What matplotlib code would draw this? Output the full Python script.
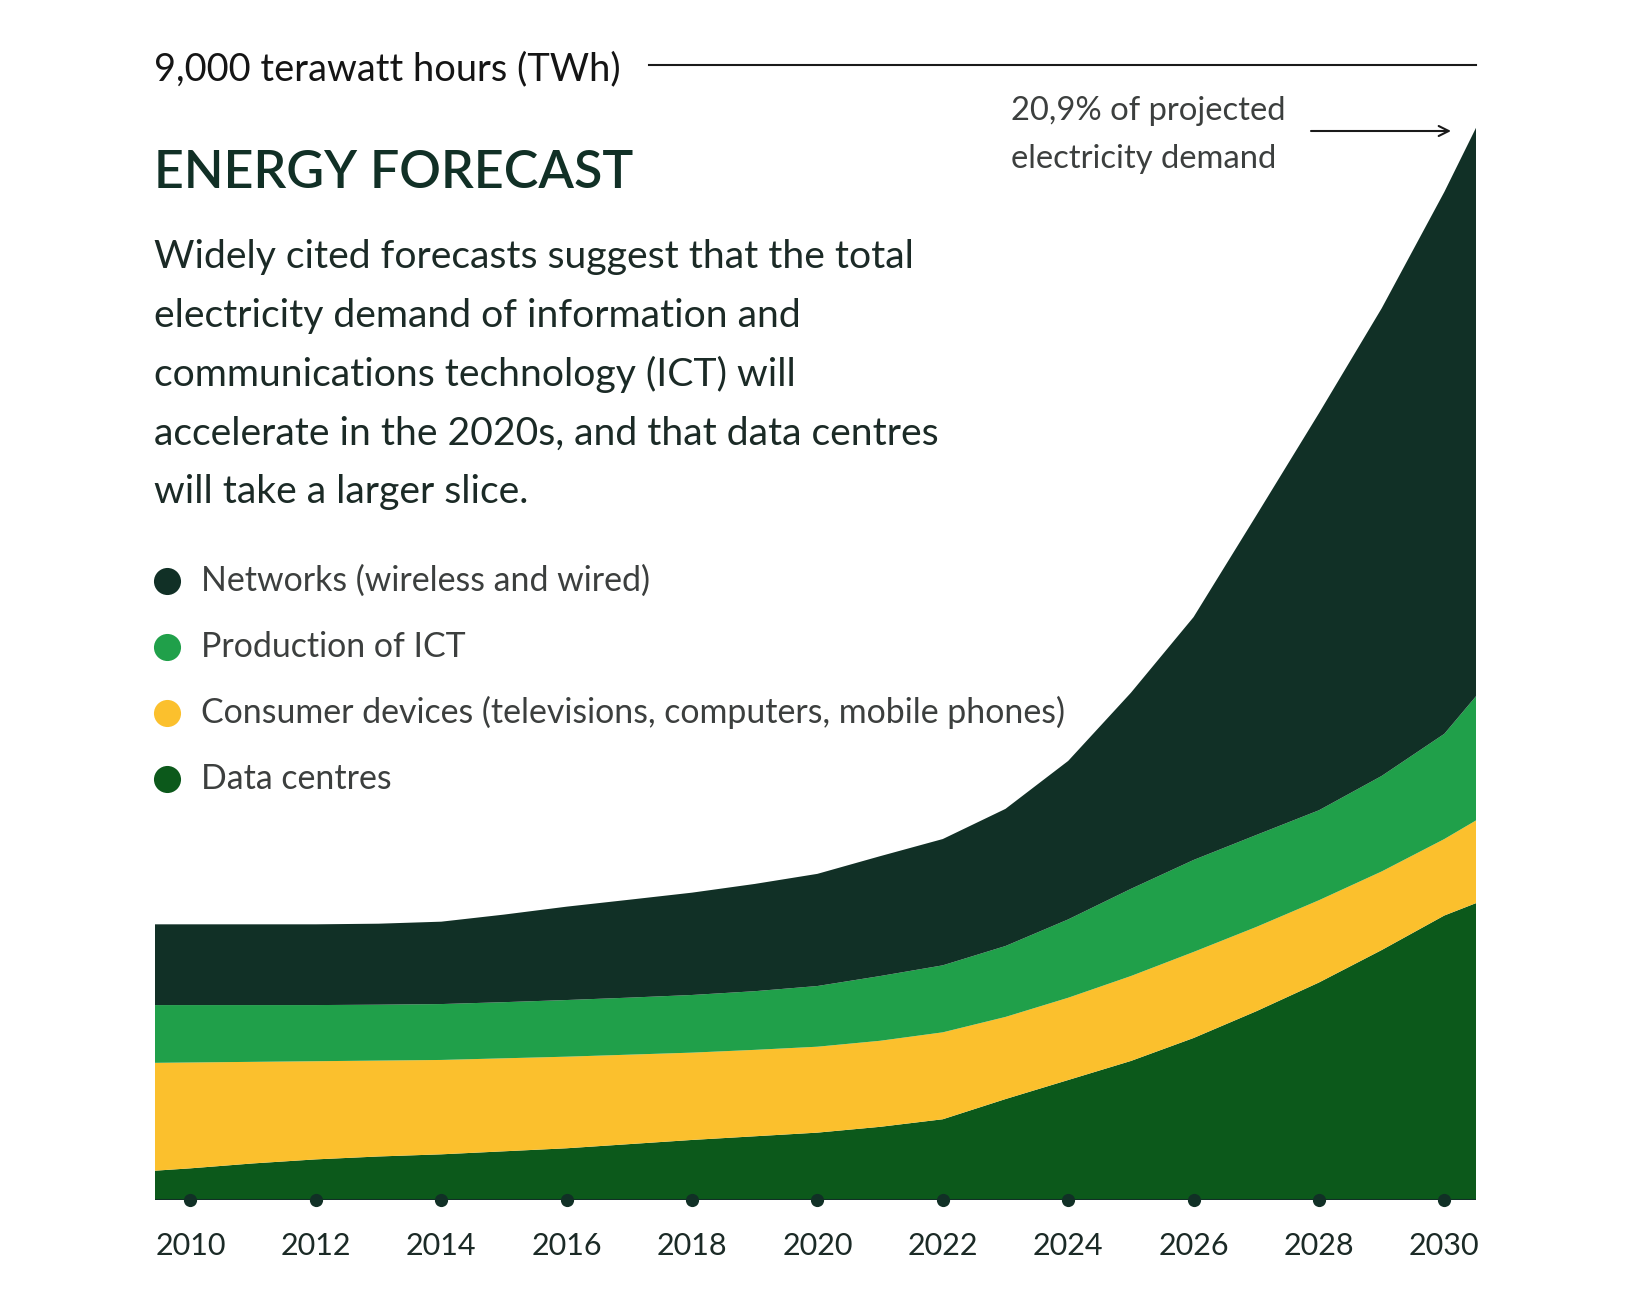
import matplotlib
matplotlib.use("Agg")
import matplotlib.pyplot as plt

# canvas size in pixels (dpi 100)
W, H = 1631, 1304

# TWh per layer (2009 and 2031 only fill the edges)
years = list(range(2009, 2032))
data_centres = [218, 251, 290, 322, 345, 362, 386, 410, 443, 476, 505, 534,
                580, 640, 800, 951, 1102, 1284, 1496, 1724, 1981, 2255, 2449]
consumer_devices = [867, 839, 805, 778, 760, 748, 737, 726, 709, 692, 685, 681,
                    682, 689, 651, 652, 673, 682, 668, 652, 623, 606, 704]
production_ict = [460, 455, 450, 445, 443, 443, 445, 449, 452, 457, 465, 481,
                  513, 531, 562, 621, 691, 729, 729, 713, 757, 834, 1132]
networks = [640, 640, 640, 640, 642, 653, 694, 740, 776, 811, 850, 889,
            950, 1001, 1087, 1256, 1554, 1925, 2532, 3147, 3706, 4295, 4711]

legend_labels = ['Networks (wireless and wired)',
                 'Production of ICT',
                 'Consumer devices (televisions, computers, mobile phones)',
                 'Data centres']
legend_colors = ['#113026', '#20a04a', '#fbc02d', '#0c591b']
tick_years = list(range(2010, 2031, 2))

paragraph = ['Widely cited forecasts suggest that the total',
             'electricity demand of information and',
             'communications technology (ICT) will',
             'accelerate in the 2020s, and that data centres',
             'will take a larger slice.']
note_lines = ['20,9% of projected', 'electricity demand']

DARK = '#113026'
TEXT = '#1b2a26'
GREY = '#3c3f3e'

plt.rcParams['font.family'] = ['Lato', 'DejaVu Sans']


def fx(x):
    return x / W


def fy(y):
    return 1 - y / H


fig = plt.figure(figsize=(W / 100, H / 100), dpi=100)
fig.patch.set_facecolor('white')

x0, x1, y0, y1 = 154.7, 1476, 1200, 64.5
ax = fig.add_axes([fx(x0), fy(y0), (x1 - x0) / W, (y0 - y1) / H])
ax.set_facecolor('none')

# stacked areas, bottom layer first
ax.stackplot(years, data_centres, consumer_devices, production_ict, networks,
             colors=legend_colors[::-1], linewidth=0)
ax.set_xlim(2009.43, 2030.505)
ax.set_ylim(0, 9000)
for s in ax.spines.values():
    s.set_visible(False)
ax.set_yticks([])

ax.set_xticks(tick_years)
ax.set_xticklabels([str(y) for y in tick_years], fontsize=22, color=TEXT)
ax.tick_params(axis='x', length=0, pad=23)

ax.axhline(0, color=DARK, lw=1.5, zorder=4)
ax.scatter(tick_years, [0] * len(tick_years), s=90, color=DARK,
           clip_on=False, zorder=5, linewidths=0)

# 9,000 TWh reference line
ax.axhline(9000, xmin=(649 - x0) / (x1 - x0), xmax=1, color='#1a1a1a',
           lw=1.5, clip_on=False)
fig.text(fx(154), fy(69), '9,000 terawatt hours (TWh)',
         ha='left', va='center', fontsize=27.4, color='#151515')

# title and intro text
fig.text(fx(154), fy(173), 'ENERGY FORECAST', fontsize=37.4, fontweight='semibold',
         color=DARK, ha='left', va='center')
for i, line in enumerate(paragraph):
    fig.text(fx(154), fy(257 + i * 58.8), line, fontsize=28.2, color=TEXT,
             ha='left', va='center')

# legend
for i, (lab, col) in enumerate(zip(legend_labels, legend_colors)):
    yy = fy(581 + i * 65.9)
    ax.plot([fx(167.5)], [yy], 'o', ms=19.5, color=col, mec='none',
            transform=fig.transFigure, clip_on=False)
    fig.text(fx(200.7), yy, lab, fontsize=24.4, color=GREY, ha='left', va='center')

# annotation near the peak
for i, line in enumerate(note_lines):
    fig.text(fx(1011), fy(111 + i * 48), line, fontsize=23.6, color=GREY,
             ha='left', va='center')
ax.annotate('', xy=(fx(1451), fy(131)), xytext=(fx(1311), fy(131)),
            xycoords='figure fraction', textcoords='figure fraction',
            arrowprops=dict(arrowstyle='->', lw=1.5, color='#1a1a1a',
                            mutation_scale=18, shrinkA=0, shrinkB=0))

fig.savefig('out.png', dpi=100, facecolor='white')
